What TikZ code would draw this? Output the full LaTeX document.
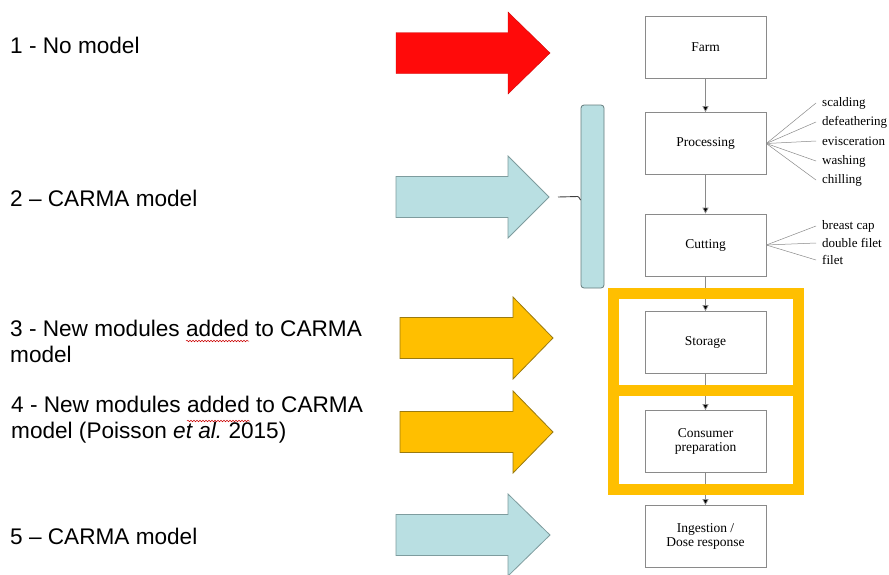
\documentclass[tikz,border=0pt]{standalone}
\usepackage{fontspec}
\setmainfont{Liberation Serif}
\newfontfamily\labelfont{Liberation Sans}
\usetikzlibrary{arrows.meta,decorations.pathmorphing}

\definecolor{flowgray}{HTML}{8A8A8A}
\definecolor{modelred}{HTML}{FF0A0A}
\definecolor{modelcyan}{HTML}{B9DFE2}
\definecolor{cyanedge}{HTML}{7E9C9E}
\definecolor{modelgold}{HTML}{FFBF00}
\definecolor{goldedge}{HTML}{9A7A10}

% block arrow: style, tail x, head-base x, tip x, centre y
\newcommand\blockarr[5]{%
  \draw[#1] (#2,#5-20.5) -- (#3,#5-20.5) -- (#3,#5-41) -- (#4,#5)
    -- (#3,#5+41) -- (#3,#5+20.5) -- (#2,#5+20.5) -- cycle;}

\begin{document}
\begin{tikzpicture}[x=1pt,y=-1pt,
  stagebox/.style={draw=flowgray, line width=0.7pt, fill=white,
    minimum width=121pt, minimum height=62pt, align=center,
    font=\fontsize{13.5}{14}\selectfont, inner sep=2pt},
  flow/.style={draw=flowgray, line width=0.7pt,
    -{Triangle[length=6pt,width=6pt,fill=black]}},
  fanline/.style={draw=flowgray, line width=0.5pt},
  fanlabel/.style={anchor=west, inner sep=0pt,
    font=\fontsize{13}{13}\selectfont},
  modeltext/.style={anchor=west, align=left, inner sep=0pt,
    font=\labelfont\fontsize{22.6}{26}\selectfont},
  goldframe/.style={draw=modelgold, line width=11pt},
  redarr/.style={fill=modelred, draw=modelred!80!black, line width=0.4pt},
  cyanarr/.style={fill=modelcyan, draw=cyanedge, line width=0.8pt},
  goldarr/.style={fill=modelgold, draw=goldedge, line width=0.8pt},
  spell/.style={draw=red!80!black, line width=0.5pt,
    decorate, decoration={snake, amplitude=0.8pt, segment length=3pt}}]

\useasboundingbox (0,0) rectangle (889,574);
\fill[white] (0,0) rectangle (889,574);

% model labels on the left
\node[modeltext] (m1) at (10,45) {1 - No model};
\node[modeltext] (m2) at (10,198) {2 – CARMA model};
\node[modeltext] (m3) at (10,341) {3 - New modules added to CARMA\\model};
\node[modeltext] (m4) at (11,420) {4 - New modules added to CARMA\\model (Poisson {\itshape et al.}\ 2015)};
\node[modeltext] (m5) at (10,536) {5 – CARMA model};

% spell-check underlines below "added"
\draw[spell] (186,341) -- (249,341);
\draw[spell] (187,421) -- (250,421);

% block arrows pointing at the chain
\blockarr{redarr}{396}{508}{550}{53}
\blockarr{cyanarr}{396}{508}{549}{197}
\blockarr{goldarr}{400}{513}{553}{338}
\blockarr{goldarr}{400}{513}{553}{432}
\blockarr{cyanarr}{396}{508}{550}{535}

% bracket grouping processing and cutting
\node[draw=cyanedge!80!black, fill=modelcyan, line width=0.8pt, rounded corners=3pt,
  minimum width=23pt, minimum height=183pt, inner sep=0pt] (brk) at (592.5,196.5) {};
\coordinate (brkin) at (558,197);
\draw[line width=0.9pt, draw=black!75] (brkin) -- ([xshift=-3pt]brk.west) to[out=0,in=-90] ([yshift=-3pt]brk.west);

% process chain
\node[stagebox] (farm) at (705.5,47) {Farm};
\node[stagebox] (proc) at (705.5,143.5) {Processing};
\node[stagebox] (cut)  at (705.5,245) {Cutting};
\node[stagebox] (stor) at (705.5,342.5) {Storage};
\node[stagebox] (cons) at (705.5,441.5) {Consumer\\preparation};
\node[stagebox] (ing)  at (705.5,536.5) {Ingestion /\\Dose response};

\draw[flow] (farm) -- (proc);
\draw[flow] (proc) -- (cut);
\draw[flow] (cut) -- (stor);
\draw[flow] (stor) -- (cons);
\draw[flow] (cons) -- (ing);

% processing steps
\foreach \lab/\yy [count=\i] in {scalding/103, defeathering/122, evisceration/141, washing/161, chilling/180} {
  \node[fanlabel] (ps\i) at (822,\yy) {\lab};
  \draw[fanline] (proc.east) -- ([xshift=-6pt]ps\i.west);
}

% cutting products
\foreach \lab/\yy [count=\i] in {breast cap/226, double filet/243, filet/260} {
  \node[fanlabel] (cp\i) at (822,\yy) {\lab};
  \draw[fanline] (cut.east) -- ([xshift=-6pt]cp\i.west);
}

% highlight frames for the new modules
\node[goldframe, minimum width=185pt, minimum height=97pt, inner sep=0pt] (fr1) at (705.5,342) {};
\node[goldframe, minimum width=185pt, minimum height=98.5pt, inner sep=0pt] (fr2) at (705.5,439.75) {};

\end{tikzpicture}
\end{document}
